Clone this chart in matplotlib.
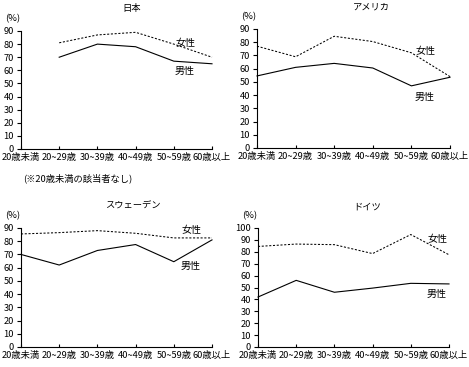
"""Japan / USA / Sweden / Germany: age-group rates by sex (2x2 line panels)."""

import matplotlib
matplotlib.use("Agg")
import matplotlib.pyplot as plt

plt.rcParams["font.family"] = ["Noto Sans CJK JP", "DejaVu Sans"]

W, H = 469, 367

ages = ["20歳未満", "20~29歳", "30~39歳", "40~49歳", "50~59歳", "60歳以上"]

# 日本 (20歳未満の該当者なし)
jp_male = [None, 70, 80, 78, 67, 65]
jp_female = [None, 81, 87, 89, 80, 70]
# アメリカ
us_male = [54.5, 61, 64, 60.5, 47, 53.5]
us_female = [77, 69, 84.5, 80.5, 72, 54]
# スウェーデン
se_male = [70, 62, 73, 77.5, 64.5, 81]
se_female = [85.5, 86.5, 88, 86, 82.5, 82.5]
# ドイツ
de_male = [42, 56, 46, 49.5, 53.5, 53]
de_female = [84.5, 86.5, 86, 78.5, 94.5, 77.5]

# panel: title, male, female, ymax, axes box (px: left, top, right, bottom),
#        title pos, 女性 pos, 男性 pos
panels = [
    ("日本", jp_male, jp_female, 90, (21, 31, 212, 149), (132, 8), (185, 43), (185, 71)),
    ("アメリカ", us_male, us_female, 90, (257, 29, 450, 148), (371, 7), (425, 51), (425, 97)),
    ("スウェーデン", se_male, se_female, 90, (21, 228, 212, 347), (133, 206), (191, 230), (191, 266)),
    ("ドイツ", de_male, de_female, 100, (258, 228, 449, 347), (367, 207), (437, 239), (437, 294)),
]

FS = 6.7


def fx(px):
    return px / W


def fy(py):
    return 1 - py / H


fig = plt.figure(figsize=(W / 100, H / 100), dpi=100)

for title, male, female, ymax, (l, t, r, b), tpos, fpos, mpos in panels:
    ax = fig.add_axes([fx(l), fy(b), fx(r) - fx(l), fy(t) - fy(b)])
    x = range(len(ages))
    xm = [i for i, v in zip(x, male) if v is not None]
    ym = [v for v in male if v is not None]
    xf = [i for i, v in zip(x, female) if v is not None]
    yf = [v for v in female if v is not None]
    ax.plot(xm, ym, color="black", lw=0.8, clip_on=False)
    ax.plot(xf, yf, color="black", lw=0.75, ls=(0, (2, 1.6)), clip_on=False)

    ax.set_xlim(0, len(ages) - 1)
    ax.set_ylim(0, ymax)
    ax.set_yticks(range(0, ymax + 1, 10))
    ax.set_xticks(list(x))
    ax.set_xticklabels(ages)
    for s in ("top", "right"):
        ax.spines[s].set_visible(False)
    for s in ("left", "bottom"):
        ax.spines[s].set_linewidth(0.8)
    ax.tick_params(axis="y", direction="out", length=3, width=0.8, pad=2, labelsize=FS)
    ax.tick_params(axis="x", direction="in", length=2.5, width=0.8, pad=3, labelsize=FS)
    ax.patch.set_alpha(0)

    fig.text(fx(tpos[0]), fy(tpos[1]), title, ha="center", va="center", fontsize=FS)
    fig.text(fx(l - 8), fy(t - 12), "(%)", ha="center", va="center", fontsize=FS)
    fig.text(fx(fpos[0]), fy(fpos[1]), "女性", ha="center", va="center", fontsize=FS + 0.5)
    fig.text(fx(mpos[0]), fy(mpos[1]), "男性", ha="center", va="center", fontsize=FS + 0.5)

fig.text(fx(23), fy(178), "(※20歳未満の該当者なし)", ha="left", va="center", fontsize=FS)

fig.savefig("out.png", dpi=100)
